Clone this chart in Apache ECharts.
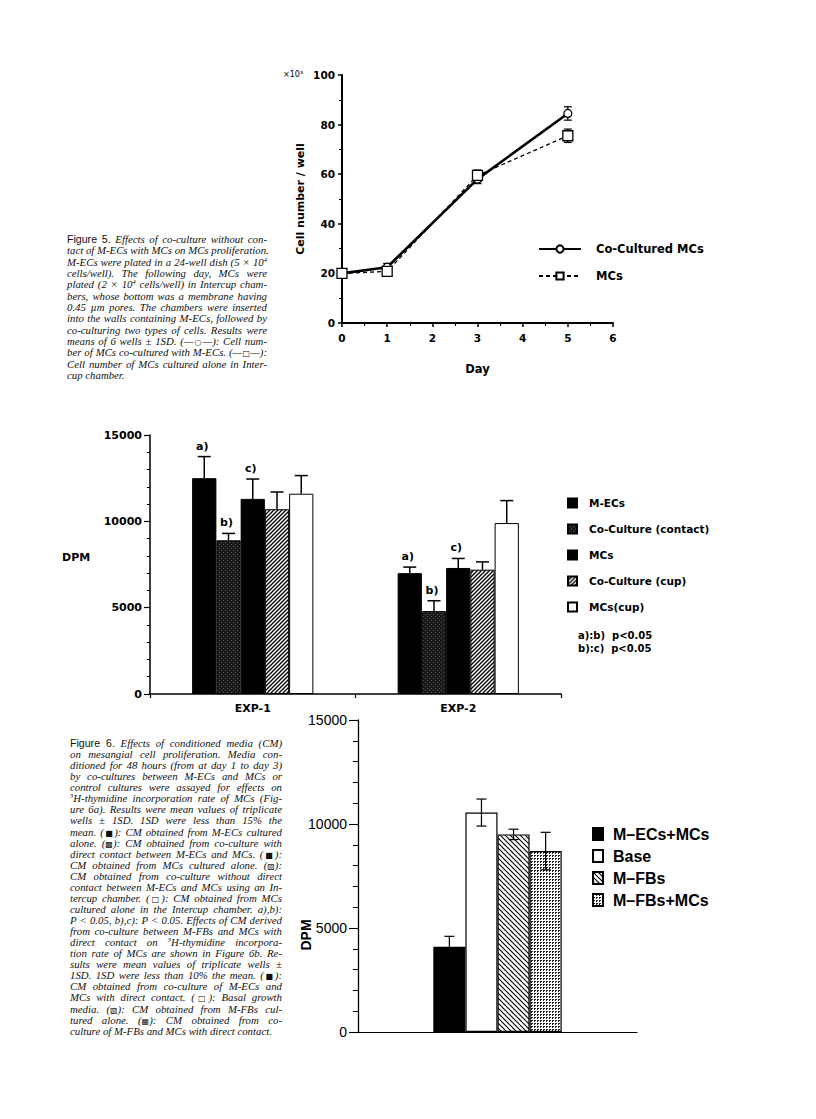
<!DOCTYPE html>
<html>
<head>
<meta charset="utf-8">
<script src="https://cdn.jsdelivr.net/npm/echarts/dist/echarts.min.js"></script>
<style>
html, body { margin: 0; padding: 0; background: #fff; }
#page { position: relative; width: 816px; height: 1119px; overflow: hidden; }
#chart { position: absolute; left: 0; top: 0; width: 816px; height: 1119px; }
.cap { position: absolute; font-family: "Liberation Serif", serif; font-style: italic; font-size: 10.8px; color: #111; }
.cap div { white-space: nowrap; text-align: justify; text-align-last: justify; }
.cap div.last { text-align-last: left; }
.cap b { font-family: "Liberation Sans", sans-serif; font-style: normal; font-weight: normal; font-size: 10.6px; }
.cap sup { font-size: 6.5px; line-height: 0; vertical-align: 4px; }
.sym { font-family: "DejaVu Sans", sans-serif; font-style: normal; font-size: 8px; }
#cap5 { left: 67px; top: 234px; width: 200px; }
#cap5 div { height: 11.33px; line-height: 11.33px; }
#cap6 { left: 70px; top: 738px; width: 212px; }
#cap6 div { height: 11.07px; line-height: 11.07px; }
</style>
</head>
<body>
<div id="page">
  <div id="chart"></div>
  <div class="cap" id="cap5">
    <div><b>Figure 5.</b> Effects of co-culture without con-</div>
    <div>tact of M-ECs with MCs on MCs proliferation.</div>
    <div>M-ECs were plated in a 24-well dish (5 × 10<sup>4</sup></div>
    <div>cells/well). The following day, MCs were</div>
    <div>plated (2 × 10<sup>4</sup> cells/well) in Intercup cham-</div>
    <div>bers, whose bottom was a membrane having</div>
    <div>0.45 µm pores. The chambers were inserted</div>
    <div>into the walls containing M-ECs, followed by</div>
    <div>co-culturing two types of cells. Results were</div>
    <div>means of 6 wells ± 1SD. (—<span class="sym">○</span>—): Cell num-</div>
    <div>ber of MCs co-cultured with M-ECs. (—<span class="sym">□</span>—):</div>
    <div>Cell number of MCs cultured alone in Inter-</div>
    <div class="last">cup chamber.</div>
  </div>
  <div class="cap" id="cap6">
    <div><b>Figure 6.</b> Effects of conditioned media (CM)</div>
    <div>on mesangial cell proliferation. Media con-</div>
    <div>ditioned for 48 hours (from at day 1 to day 3)</div>
    <div>by co-cultures between M-ECs and MCs or</div>
    <div>control cultures were assayed for effects on</div>
    <div><sup>3</sup>H-thymidine incorporation rate of MCs (Fig-</div>
    <div>ure 6a). Results were mean values of triplicate</div>
    <div>wells ± 1SD. 1SD were less than 15% the</div>
    <div>mean. (<span class="sym">■</span>): CM obtained from M-ECs cultured</div>
    <div>alone. (<span class="sym">▩</span>): CM obtained from co-culture with</div>
    <div>direct contact between M-ECs and MCs. (<span class="sym">■</span>):</div>
    <div>CM obtained from MCs cultured alone. (<span class="sym">▨</span>):</div>
    <div>CM obtained from co-culture without direct</div>
    <div>contact between M-ECs and MCs using an In-</div>
    <div>tercup chamber. (<span class="sym">□</span>): CM obtained from MCs</div>
    <div>cultured alone in the Intercup chamber. a),b):</div>
    <div>P &lt; 0.05, b),c): P &lt; 0.05. Effects of CM derived</div>
    <div>from co-culture between M-FBs and MCs with</div>
    <div>direct contact on <sup>3</sup>H-thymidine incorpora-</div>
    <div>tion rate of MCs are shown in Figure 6b. Re-</div>
    <div>sults were mean values of triplicate wells ±</div>
    <div>1SD. 1SD were less than 10% the mean. (<span class="sym">■</span>):</div>
    <div>CM obtained from co-culture of M-ECs and</div>
    <div>MCs with direct contact. (<span class="sym">□</span>): Basal growth</div>
    <div>media. (<span class="sym">▧</span>): CM obtained from M-FBs cul-</div>
    <div>tured alone. (<span class="sym">▦</span>): CM obtained from co-</div>
    <div class="last">culture of M-FBs and MCs with direct contact.</div>
  </div>
</div>
<script>
// ---- Fig 5: cell number (x10^3) vs day
const days = [0, 1, 3, 5];
const coCultured = [20, 22.5, 58, 84.5];
const coCulturedSD = [0.6, 1.5, 1.8, 2.7];
const mcsAlone = [20, 20.8, 59.5, 75.5];
const mcsAloneSD = [0.6, 1.5, 2.2, 2.7];

// ---- Fig 6a: DPM, two experiments
const expNames = ['EXP-1', 'EXP-2'];
const names6a = ['M-ECs', 'Co-Culture (contact)', 'MCs ', 'Co-Culture (cup)', 'MCs(cup)'];
const dpmMECs = [12500, 7000];
const dpmContact = [8900, 4800];
const dpmMCs = [11300, 7300];
const dpmCup = [10700, 7200];
const dpmCupMCs = [11600, 9900];
const sdMECs = [1250, 350];
const sdContact = [400, 600];
const sdMCs = [1150, 550];
const sdCup = [1000, 450];
const sdCupMCs = [1050, 1300];
const sigLabels = [['a)', 'a)'], ['b)', 'b)'], ['c)', 'c)'], ['', ''], ['', '']];

// ---- Fig 6b: DPM, conditioned media
const names6b = ['M–ECs+MCs', 'Base', 'M–FBs', 'M–FBs+MCs'];
const dpm6b = [4100, 10550, 9500, 8700];
const sd6b = [500, 650, 250, 900];

const GAP6A = 0.41, GAP6B = 0.54;

function pattern(size, draw) {
  const c = document.createElement('canvas');
  c.width = size; c.height = size;
  const ctx = c.getContext('2d');
  draw(ctx, size);
  return { image: c, repeat: 'repeat' };
}
const fillContact = pattern(4, (ctx, s) => {
  ctx.fillStyle = '#1a1a1a'; ctx.fillRect(0, 0, s, s);
  ctx.fillStyle = '#555';
  ctx.fillRect(3, 0, 1, 1); ctx.fillRect(1, 2, 1, 1);
});
const fillSlash = pattern(4, (ctx, s) => {
  ctx.fillStyle = '#fff'; ctx.fillRect(0, 0, s, s);
  ctx.strokeStyle = '#000'; ctx.lineWidth = 1.3;
  ctx.beginPath();
  ctx.moveTo(-1, s + 1); ctx.lineTo(s + 1, -1);
  ctx.moveTo(-1, 1); ctx.lineTo(1, -1);
  ctx.moveTo(s - 1, s + 1); ctx.lineTo(s + 1, s - 1);
  ctx.stroke();
});
const fillBackslash = pattern(5, (ctx, s) => {
  ctx.fillStyle = '#fff'; ctx.fillRect(0, 0, s, s);
  ctx.strokeStyle = '#000'; ctx.lineWidth = 1.1;
  ctx.beginPath();
  ctx.moveTo(-1, -1); ctx.lineTo(s + 1, s + 1);
  ctx.moveTo(-1, s - 1); ctx.lineTo(1, s + 1);
  ctx.moveTo(s - 1, -1); ctx.lineTo(s + 1, 1);
  ctx.stroke();
});
const fillDots = pattern(3, (ctx) => {
  ctx.fillStyle = '#fff'; ctx.fillRect(0, 0, 3, 3);
  ctx.fillStyle = '#222'; ctx.fillRect(0, 0, 2, 1); ctx.fillRect(0, 1, 1, 1);
});

const vals6a = [dpmMECs, dpmContact, dpmMCs, dpmCup, dpmCupMCs];
const sds6a = [sdMECs, sdContact, sdMCs, sdCup, sdCupMCs];
const fills6a = ['#000', fillContact, '#000', fillSlash, '#fff'];
const fills6b = ['#000', '#fff', fillBackslash, fillDots];

const chart = echarts.init(document.getElementById('chart'), null, { renderer: 'svg' });

function errLine(days, means, sds) {
  return days.map((d, i) => [d, means[i] - sds[i], means[i] + sds[i]]);
}
function renderErrXY(params, api) {
  const p1 = api.coord([api.value(0), api.value(1)]);
  const p2 = api.coord([api.value(0), api.value(2)]);
  const st = { stroke: '#000', lineWidth: 1.2 };
  return { type: 'group', children: [
    { type: 'line', shape: { x1: p1[0], y1: p1[1], x2: p2[0], y2: p2[1] }, style: st },
    { type: 'line', shape: { x1: p1[0] - 4, y1: p1[1], x2: p1[0] + 4, y2: p1[1] }, style: st },
    { type: 'line', shape: { x1: p2[0] - 4, y1: p2[1], x2: p2[0] + 4, y2: p2[1] }, style: st }
  ] };
}
function renderErr6a(params, api) {
  const cat = api.value(0), mean = api.value(1), sd = api.value(2), k = api.value(3);
  const n = names6a.length;
  const band = api.size([1, 0])[0];
  const barW = band * (1 - GAP6A) / n;
  const x = api.coord([cat, 0])[0] + (k - (n - 1) / 2) * barW;
  const y0 = api.coord([cat, mean])[1], y1 = api.coord([cat, mean + sd])[1];
  const st = { stroke: '#000', lineWidth: 1.5 };
  const children = [
    { type: 'line', shape: { x1: x, y1: y0, x2: x, y2: y1 }, style: st },
    { type: 'line', shape: { x1: x - 6.5, y1: y1, x2: x + 6.5, y2: y1 }, style: st }
  ];
  const lab = sigLabels[k][cat];
  if (lab) {
    children.push({ type: 'text', style: { text: lab, x: x - 2, y: y1 - 5, textAlign: 'center',
      textVerticalAlign: 'bottom', font: 'bold 11px "DejaVu Sans"', fill: '#000' } });
  }
  return { type: 'group', children: children };
}
function renderErr6b(params, api) {
  const mean = api.value(1), sd = api.value(2), k = api.value(3);
  const n = names6b.length;
  const band = api.size([1, 0])[0];
  const barW = band * (1 - GAP6B) / n;
  const x = api.coord([0, 0])[0] + (k - (n - 1) / 2) * barW;
  const yl = api.coord([0, mean - sd])[1], yh = api.coord([0, mean + sd])[1];
  const st = { stroke: '#000', lineWidth: 1.2 };
  return { type: 'group', children: [
    { type: 'line', shape: { x1: x, y1: yl, x2: x, y2: yh }, style: st },
    { type: 'line', shape: { x1: x - 5, y1: yh, x2: x + 5, y2: yh }, style: st },
    { type: 'line', shape: { x1: x - 5, y1: yl, x2: x + 5, y2: yl }, style: st }
  ] };
}

const plain = (v) => String(v);
const blackAxis = (w) => ({ show: true, lineStyle: { color: '#000', width: w } });
const labelTop = { color: '#000', fontFamily: 'DejaVu Sans', fontWeight: 'bold', fontSize: 10.5, formatter: plain };
const labelMid = { color: '#000', fontFamily: 'DejaVu Sans', fontWeight: 'bold', fontSize: 11 };

const series = [];
// Fig 5 lines
series.push({
  name: 'Co-Cultured MCs', type: 'line', xAxisIndex: 0, yAxisIndex: 0, z: 3,
  data: days.map((d, i) => [d, coCultured[i]]),
  symbol: 'circle', symbolSize: 8,
  itemStyle: { color: '#fff', borderColor: '#000', borderWidth: 1.3 },
  lineStyle: { color: '#000', width: 2.6 }
});
series.push({
  name: 'MCs', type: 'line', xAxisIndex: 0, yAxisIndex: 0, z: 3,
  data: days.map((d, i) => [d, mcsAlone[i]]),
  symbol: 'rect', symbolSize: 10,
  itemStyle: { color: '#fff', borderColor: '#000', borderWidth: 1.3 },
  lineStyle: { color: '#000', width: 1.3, type: [4, 3] }
});
series.push({ type: 'custom', xAxisIndex: 0, yAxisIndex: 0, z: 2, renderItem: renderErrXY,
  encode: { x: 0, y: [1, 2] }, data: errLine(days, coCultured, coCulturedSD) });
series.push({ type: 'custom', xAxisIndex: 0, yAxisIndex: 0, z: 2, renderItem: renderErrXY,
  encode: { x: 0, y: [1, 2] }, data: errLine(days, mcsAlone, mcsAloneSD) });

// Fig 6a bars
names6a.forEach((nm, k) => {
  series.push({
    name: nm, type: 'bar', xAxisIndex: 1, yAxisIndex: 1,
    barGap: 0, barCategoryGap: (GAP6A * 100) + '%',
    data: vals6a[k],
    itemStyle: { color: fills6a[k], borderColor: '#000', borderWidth: 1 }
  });
});
const err6a = [];
vals6a.forEach((arr, k) => arr.forEach((v, c) => err6a.push([c, v, sds6a[k][c], k])));
series.push({ type: 'custom', xAxisIndex: 1, yAxisIndex: 1, z: 4, renderItem: renderErr6a, data: err6a });

// Fig 6b bars
names6b.forEach((nm, k) => {
  series.push({
    name: nm, type: 'bar', xAxisIndex: 2, yAxisIndex: 2,
    barGap: 0, barCategoryGap: (GAP6B * 100) + '%',
    data: [dpm6b[k]],
    itemStyle: { color: fills6b[k], borderColor: '#000', borderWidth: 1.2 }
  });
});
series.push({ type: 'custom', xAxisIndex: 2, yAxisIndex: 2, z: 4, renderItem: renderErr6b,
  data: dpm6b.map((v, k) => [0, v, sd6b[k], k]) });

const option = {
  animation: false,
  backgroundColor: '#fff',
  grid: [
    { left: 342, top: 75, width: 271, height: 248 },
    { left: 150, top: 435, width: 411, height: 259 },
    { left: 358, top: 720, width: 279, height: 312 }
  ],
  xAxis: [
    { gridIndex: 0, type: 'value', min: 0, max: 6, interval: 1,
      name: 'Day', nameLocation: 'middle', nameGap: 40,
      nameTextStyle: { color: '#000', fontFamily: 'DejaVu Sans', fontWeight: 'bold', fontSize: 11.5 },
      axisLine: blackAxis(2), axisTick: { show: true, length: 4, lineStyle: { width: 1.5 } },
      minorTick: { show: true, splitNumber: 2, length: 3 },
      splitLine: { show: false }, axisLabel: Object.assign({ margin: 9 }, labelTop) },
    { gridIndex: 1, type: 'category', data: expNames,
      axisLine: blackAxis(1.5), axisTick: { show: true, length: 4, lineStyle: { width: 1.2 } },
      axisLabel: Object.assign({ margin: 9 }, labelMid) },
    { gridIndex: 2, type: 'category', data: [''],
      axisLine: blackAxis(1.2), axisTick: { show: false }, axisLabel: { show: false } }
  ],
  yAxis: [
    { gridIndex: 0, type: 'value', min: 0, max: 100, interval: 20,
      name: 'Cell number / well', nameLocation: 'middle', nameGap: 36, nameRotate: 90,
      nameTextStyle: { color: '#000', fontFamily: 'DejaVu Sans', fontWeight: 'bold', fontSize: 11 },
      axisLine: blackAxis(2), axisTick: { show: true, length: 4, lineStyle: { width: 1.5 } },
      minorTick: { show: true, splitNumber: 2, length: 3 },
      splitLine: { show: false }, axisLabel: Object.assign({ margin: 7 }, labelTop) },
    { gridIndex: 1, type: 'value', min: 0, max: 15000, interval: 5000,
      axisLine: blackAxis(1.5), axisTick: { show: true, length: 6, lineStyle: { width: 1.2 } },
      minorTick: { show: true, splitNumber: 5, length: 3, lineStyle: { color: '#000' } },
      splitLine: { show: false }, axisLabel: Object.assign({ margin: 8, formatter: plain }, labelMid) },
    { gridIndex: 2, type: 'value', min: 0, max: 15000, interval: 5000,
      axisLine: blackAxis(1.3), axisTick: { show: true, length: 9, lineStyle: { width: 1.1 } },
      minorTick: { show: true, splitNumber: 5, length: 5, lineStyle: { color: '#000' } },
      splitLine: { show: false },
      axisLabel: { margin: 11, color: '#000', fontFamily: 'Liberation Sans', fontSize: 14, formatter: plain } }
  ],
  legend: [
    { data: ['Co-Cultured MCs', 'MCs'], orient: 'vertical', left: 533, top: 237,
      itemWidth: 42, itemHeight: 9, itemGap: 13, selectedMode: false,
      textStyle: { color: '#000', fontFamily: 'DejaVu Sans', fontWeight: 'bold', fontSize: 11.5,
        lineHeight: 14, padding: [0, 0, 0, 10] } },
    { data: names6a, orient: 'vertical', left: 562, top: 491, icon: 'rect',
      itemWidth: 9, itemHeight: 9, itemGap: 12, selectedMode: false,
      textStyle: { color: '#000', fontFamily: 'DejaVu Sans', fontWeight: 'bold', fontSize: 10.5,
        lineHeight: 14, padding: [0, 0, 0, 7] } },
    { data: names6b, orient: 'vertical', left: 587, top: 820, icon: 'rect',
      itemWidth: 10, itemHeight: 12, itemGap: 4, selectedMode: false,
      textStyle: { color: '#000', fontFamily: 'Liberation Sans', fontWeight: 'bold', fontSize: 16,
        lineHeight: 18, padding: [0, 0, 0, 5] } }
  ],
  graphic: [
    { type: 'text', x: 283, y: 70, style: { text: '×10³', font: '8px "DejaVu Sans"', fill: '#000' } },
    { type: 'text', x: 62, y: 552, style: { text: 'DPM', font: 'bold 11px "DejaVu Sans"', fill: '#000' } },
    { type: 'text', x: 578, y: 630, style: { text: 'a):b)\u00a0\u00a0p<0.05', font: 'bold 10px "DejaVu Sans"', fill: '#000' } },
    { type: 'text', x: 578, y: 643, style: { text: 'b):c)\u00a0\u00a0p<0.05', font: 'bold 10px "DejaVu Sans"', fill: '#000' } },
    { type: 'text', x: 306, y: 935, rotation: Math.PI / 2,
      style: { text: 'DPM', font: 'bold 14px "Liberation Sans"', fill: '#000', textAlign: 'center', textVerticalAlign: 'middle' } }
  ],
  series: series
};
chart.setOption(option);
</script>
</body>
</html>
